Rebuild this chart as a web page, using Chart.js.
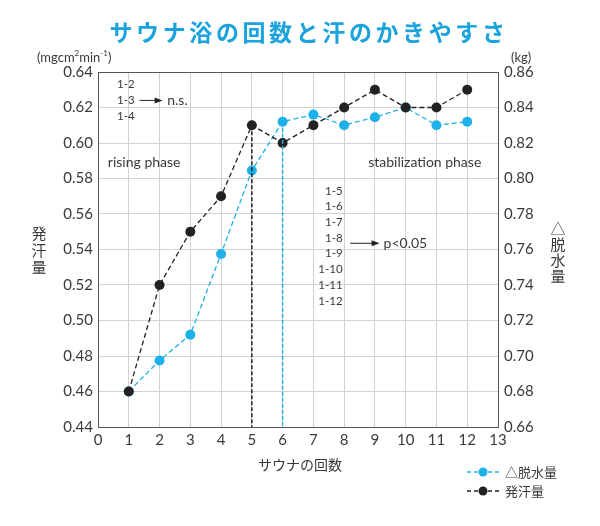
<!DOCTYPE html>
<html><head><meta charset="utf-8">
<script src="https://cdn.jsdelivr.net/npm/chart.js@4.4.1/dist/chart.umd.min.js"></script>
<style>html,body{margin:0;padding:0;background:#fff;}#wrap{width:600px;height:526px;}</style>
</head><body><div id="wrap"><canvas id="c" width="600" height="526"></canvas></div>
<script>
const saunaCounts = [1,2,3,4,5,6,7,8,9,10,11,12];
const sweatRate = [0.46,0.52,0.55,0.57,0.61,0.60,0.61,0.62,0.63,0.62,0.62,0.63];      // 発汗量 (left axis)
const dehydration = [0.68,0.6975,0.712,0.7575,0.8045,0.832,0.836,0.83,0.8345,0.84,0.83,0.832]; // △脱水量 (right axis, kg)
const xTicks = [0,1,2,3,4,5,6,7,8,9,10,11,12,13];
const leftTicks = [0.44,0.46,0.48,0.50,0.52,0.54,0.56,0.58,0.60,0.62,0.64];
const rightTicks = [0.66,0.68,0.70,0.72,0.74,0.76,0.78,0.80,0.82,0.84,0.86];
const nsPairs = ['1-2','1-3','1-4'];
const sigPairs = ['1-5','1-6','1-7','1-8','1-9','1-10','1-11','1-12'];

const BLUE = '#1eb0e8', BLACK = '#222222', TXT = '#3a3a3a';
const FONT = 'Lato, "Noto Sans CJK JP", sans-serif';
const JFONT = '"Noto Sans CJK JP", sans-serif';

const sweatPts = saunaCounts.map((x,i)=>({x, y: sweatRate[i]}));
const dehyPts = saunaCounts.map((x,i)=>({x, y: dehydration[i]}));
// vertical drop lines (from data point to axis minimum)
const sweatDrop = [{x: saunaCounts[4], y: sweatRate[4]}, {x: saunaCounts[4], y: leftTicks[0]}];
const dehyDrop = [{x: saunaCounts[5], y: dehydration[5]}, {x: saunaCounts[5], y: rightTicks[0]}];

const decor = {
  id: 'decor',
  afterDraw(chart) {
    const ctx = chart.ctx, a = chart.chartArea;
    const xs = chart.scales.x, ys = chart.scales.y;
    ctx.save();
    // top border
    ctx.strokeStyle = '#555'; ctx.lineWidth = 1;
    ctx.beginPath(); ctx.moveTo(a.left, a.top+0.5); ctx.lineTo(a.right, a.top+0.5); ctx.stroke();
    // title
    ctx.fillStyle = '#1aa3dd';
    ctx.font = 'bold 23px ' + JFONT;
    ctx.textAlign = 'center'; ctx.textBaseline = 'middle';
    if ('letterSpacing' in ctx) ctx.letterSpacing = '3.6px';
    ctx.fillText('サウナ浴の回数と汗のかきやすさ', 309, 32);
    if ('letterSpacing' in ctx) ctx.letterSpacing = '0px';
    // units
    ctx.fillStyle = TXT;
    ctx.font = '13px ' + FONT;
    ctx.textAlign = 'left';
    let ux = 37, uy = 58;
    const parts = [['(mgcm',0],['2',1],['min',0],['-1',1],[')',0]];
    for (const [t,sup] of parts) {
      ctx.font = (sup ? '8px ' : '13px ') + FONT;
      ctx.fillText(t, ux, sup ? uy-5 : uy);
      ux += ctx.measureText(t).width;
    }
    ctx.font = '13px ' + FONT;
    ctx.fillText('(kg)', 511, 58);
    // axis titles (vertical stacked)
    ctx.font = '15px ' + JFONT; ctx.textAlign = 'center';
    ['発','汗','量'].forEach((c,i)=>ctx.fillText(c, 39, 233 + i*17));
    ['△','脱','水','量'].forEach((c,i)=>ctx.fillText(c, 558, 228 + i*16));
    ctx.font = '14px ' + JFONT;
    ctx.fillText('サウナの回数', 300, 465);
    // annotations in data coords
    const px = v => xs.getPixelForValue(v), py = v => ys.getPixelForValue(v);
    ctx.font = '11.5px ' + FONT; ctx.textAlign = 'left';
    nsPairs.forEach((t,i)=>ctx.fillText(t, px(0.62), py(0.633 - i*0.009)));
    drawArrow(ctx, px(1.35), px(2.1), py(0.624));
    ctx.font = '14px ' + FONT;
    ctx.fillText('n.s.', px(2.25), py(0.624));
    ctx.fillText('rising phase', px(0.32), py(0.589));
    ctx.fillText('stabilization phase', px(8.78), py(0.589));
    ctx.font = '11.5px ' + FONT; ctx.textAlign = 'right';
    sigPairs.forEach((t,i)=>ctx.fillText(t, px(7.95), py(0.573 - i*0.00885)));
    drawArrow(ctx, px(8.2), px(9.15), py(0.5435));
    ctx.textAlign = 'left'; ctx.font = '14px ' + FONT;
    ctx.fillText('p<0.05', px(9.28), py(0.5435));
    // legend
    legendItem(ctx, 467, 472, BLUE, '△脱水量');
    legendItem(ctx, 467, 491, BLACK, '発汗量');
    ctx.restore();
  }
};
function drawArrow(ctx, x1, x2, y) {
  ctx.save(); ctx.strokeStyle = '#222'; ctx.fillStyle = '#222'; ctx.lineWidth = 1;
  ctx.beginPath(); ctx.moveTo(x1, y); ctx.lineTo(x2-6, y); ctx.stroke();
  ctx.beginPath(); ctx.moveTo(x2, y); ctx.lineTo(x2-8, y-3); ctx.lineTo(x2-8, y+3); ctx.closePath(); ctx.fill();
  ctx.restore();
}
function legendItem(ctx, x, y, color, label) {
  ctx.save();
  ctx.strokeStyle = color; ctx.lineWidth = 1.5; ctx.setLineDash([4,3]);
  ctx.beginPath(); ctx.moveTo(x, y); ctx.lineTo(x+33, y); ctx.stroke();
  ctx.setLineDash([]);
  ctx.fillStyle = color; ctx.beginPath(); ctx.arc(x+16, y, 4.5, 0, Math.PI*2); ctx.fill();
  ctx.fillStyle = TXT; ctx.font = '13px ' + JFONT; ctx.textAlign = 'left'; ctx.textBaseline = 'middle';
  ctx.fillText(label, x+38, y);
  ctx.restore();
}

new Chart(document.getElementById('c'), {
  type: 'line',
  data: {
    datasets: [
      { label: '発汗量 drop', data: sweatDrop, yAxisID: 'y', borderColor: BLACK, borderWidth: 1.5, borderDash: [4,2], pointRadius: 0, fill: false },
      { label: '△脱水量 drop', data: dehyDrop, yAxisID: 'y1', borderColor: BLUE, borderWidth: 1.5, borderDash: [4,2], pointRadius: 0, fill: false },
      { label: '発汗量', data: sweatPts, yAxisID: 'y', borderColor: BLACK, backgroundColor: BLACK, borderWidth: 1.3, borderDash: [5,3], pointRadius: 5, pointBorderWidth: 0, tension: 0, fill: false },
      { label: '△脱水量', data: dehyPts, yAxisID: 'y1', borderColor: BLUE, backgroundColor: BLUE, borderWidth: 1.3, borderDash: [5,3], pointRadius: 5, pointBorderWidth: 0, tension: 0, fill: false }
    ]
  },
  options: {
    responsive: false, animation: false,
    layout: { padding: { top: 72, left: 0, right: 0, bottom: 0 } },
    plugins: { legend: { display: false }, tooltip: { enabled: false }, title: { display: false } },
    scales: {
      x: {
        type: 'linear', min: xTicks[0], max: xTicks[xTicks.length-1],
        afterBuildTicks: s => { s.ticks = xTicks.map(v=>({value:v})); },
        afterFit: s => { s.height = 99; },
        grid: { color: '#d2d2d2', lineWidth: 1, drawTicks: false },
        border: { color: '#555', width: 1 },
        ticks: { color: TXT, font: { family: FONT, size: 15 }, padding: 4 }
      },
      y: {
        type: 'linear', position: 'left', min: leftTicks[0], max: leftTicks[leftTicks.length-1],
        afterBuildTicks: s => { s.ticks = leftTicks.map(v=>({value:v})); },
        afterFit: s => { s.width = 98; },
        grid: { color: '#d2d2d2', lineWidth: 1, drawTicks: false },
        border: { color: '#555', width: 1 },
        ticks: { color: TXT, font: { family: FONT, size: 15 }, padding: 5, callback: v => v.toFixed(2) }
      },
      y1: {
        type: 'linear', position: 'right', min: rightTicks[0], max: rightTicks[rightTicks.length-1],
        afterBuildTicks: s => { s.ticks = rightTicks.map(v=>({value:v})); },
        afterFit: s => { s.width = 102; },
        grid: { display: false, drawTicks: false },
        border: { color: '#555', width: 1 },
        ticks: { color: TXT, font: { family: FONT, size: 15 }, padding: 6, callback: v => v.toFixed(2) }
      }
    }
  },
  plugins: [decor]
});
</script></body></html>
